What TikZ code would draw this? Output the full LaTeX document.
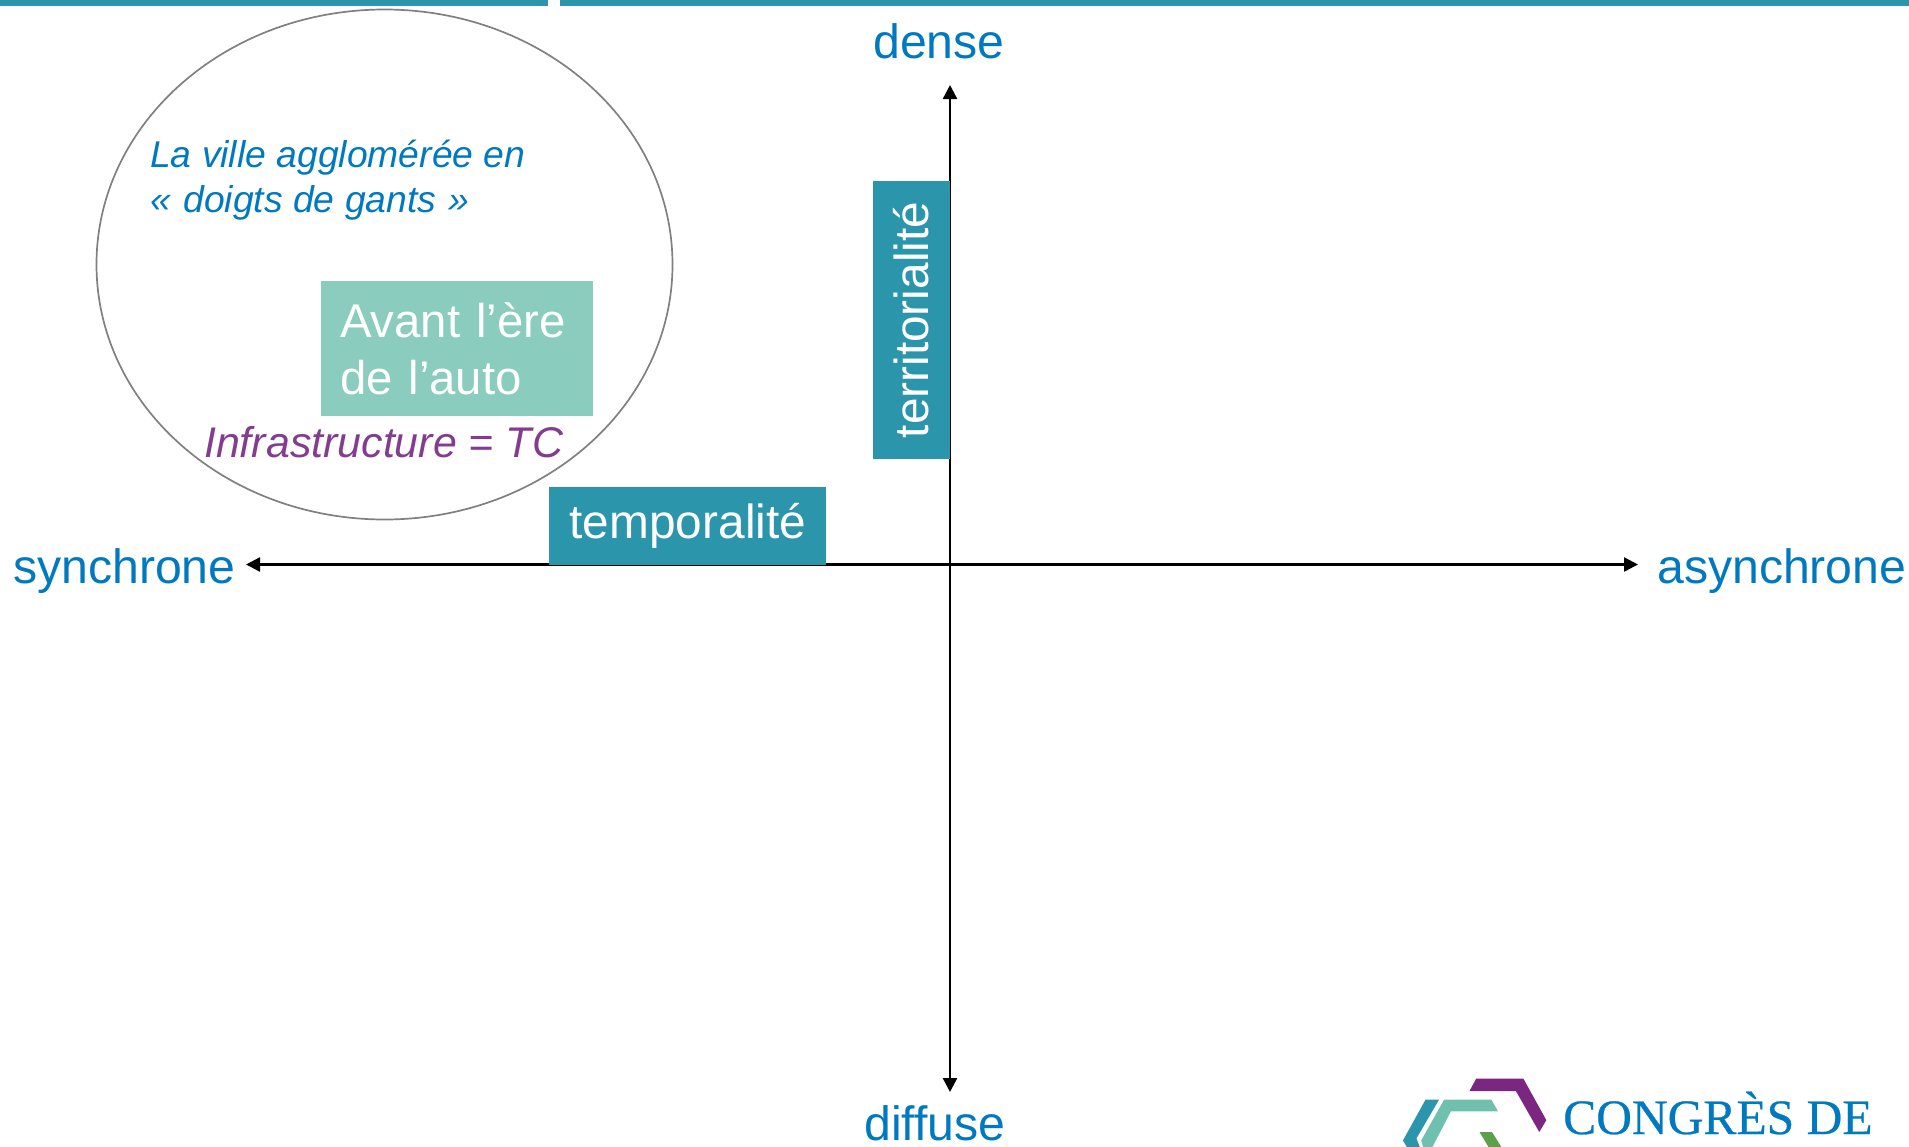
\documentclass[tikz,border=0pt]{standalone}
\usepackage{fontspec}
\setmainfont{Liberation Sans}
\newfontfamily\logofont[FakeBold=0.5]{Liberation Serif}
\usetikzlibrary{arrows.meta,shapes.geometric}
\definecolor{barteal}{HTML}{2B95AC}
\definecolor{mint}{HTML}{8ACCBD}
\definecolor{labelblue}{HTML}{0079C0}
\definecolor{plum}{HTML}{833C8F}
\definecolor{logoplum}{HTML}{7B277F}
\definecolor{logoteal}{HTML}{6FC0AE}
\definecolor{logogreen}{HTML}{5FA04A}
\newcommand{\fs}[1]{\fontsize{#1}{#1}\selectfont}
\tikzset{
  x=1pt,y=-1pt,
  axislabel/.style={anchor=base west,inner sep=0pt,text=labelblue,font=\fs{48.2}},
  axisline/.style={line width=2.4pt,black,{Triangle[length=14pt,width=14pt]}-{Triangle[length=14pt,width=14pt]}},
  tealbox/.style={fill=barteal,text=white,font=\fs{47.8},inner sep=0pt,anchor=north west},
}
\begin{document}
\begin{tikzpicture}
\useasboundingbox (0,0) rectangle (1909,1146);
\begin{scope}
\clip (0,0) rectangle (1909,1146);
\fill[barteal] (0,0) rectangle (548,5.5);
\fill[barteal] (560,0) rectangle (1909,5.5);

\node[ellipse,draw=black!50,line width=1.7pt,minimum width=576pt,minimum height=510pt,inner sep=0pt] (zone) at (384.5,264.5) {};

\node[anchor=base west,inner sep=0pt,text=labelblue,font=\fs{37.3}\itshape,align=left] (ville) at (150,212) {La ville agglomérée en\\[7.5pt]«\,\,doigts de gants\,\,»};

\node[anchor=north west,fill=mint,text=white,font=\fs{47.3},inner sep=0pt,minimum width=272pt,minimum height=135pt,text width=234pt,inner xsep=19pt,align=left] (avant) at (321,281) {Avant l’ère\\[10pt]de l’auto};

\node[anchor=base west,inner sep=0pt,text=plum,font=\fs{42.9}\itshape] (infra) at (204,457) {Infrastructure = TC};

\node[axislabel] (dense) at (873,58) {dense};
\node[axislabel] (diffuse) at (864,1140) {diffuse};
\node[axislabel] (synchrone) at (13,583) {synchrone};
\node[axislabel] (asynchrone) at (1657,583) {asynchrone};

\coordinate (top) at (950,85);
\coordinate (bottom) at (950,1092);
\coordinate (left) at (246,564.5);
\coordinate (right) at (1638,564.5);
\draw[axisline] (bottom) -- (top);
\draw[axisline] (left) -- (right);

\node[tealbox,minimum width=277pt,minimum height=78pt,text width=236pt,inner xsep=20.5pt,align=left] (temporalite) at (549,487) {\raisebox{-6pt}{temporalité}};
\node[tealbox,anchor=center,rotate=90,minimum width=278pt,minimum height=77pt] (territorialite) at (911.5,320) {\raisebox{-1pt}{territorialité}};

\begin{scope}[shift={(1380,1050)},x=0.3374pt,y=-0.3374pt]
\fill[logoplum] (285,85) -- (425,85) -- (493,208) -- (472,243) -- (403,122) -- (265,122) -- cycle;
\fill[barteal] (135,147) -- (175,147) -- (108,262) -- (118,288) -- (80,288) -- (68,268) -- cycle;
\fill[logoteal] (190,147) -- (330,147) -- (350,182) -- (210,182) -- (155,288) -- (128,288) -- (122,268) -- cycle;
\fill[logogreen] (295,243) -- (332,243) -- (360,288) -- (322,288) -- cycle;
\end{scope}
\node[anchor=base west,inner sep=0pt,text=labelblue,font=\logofont\fs{49.5}] (congres) at (1563,1134) {CONGRÈS DE};
\end{scope}
\end{tikzpicture}
\end{document}
